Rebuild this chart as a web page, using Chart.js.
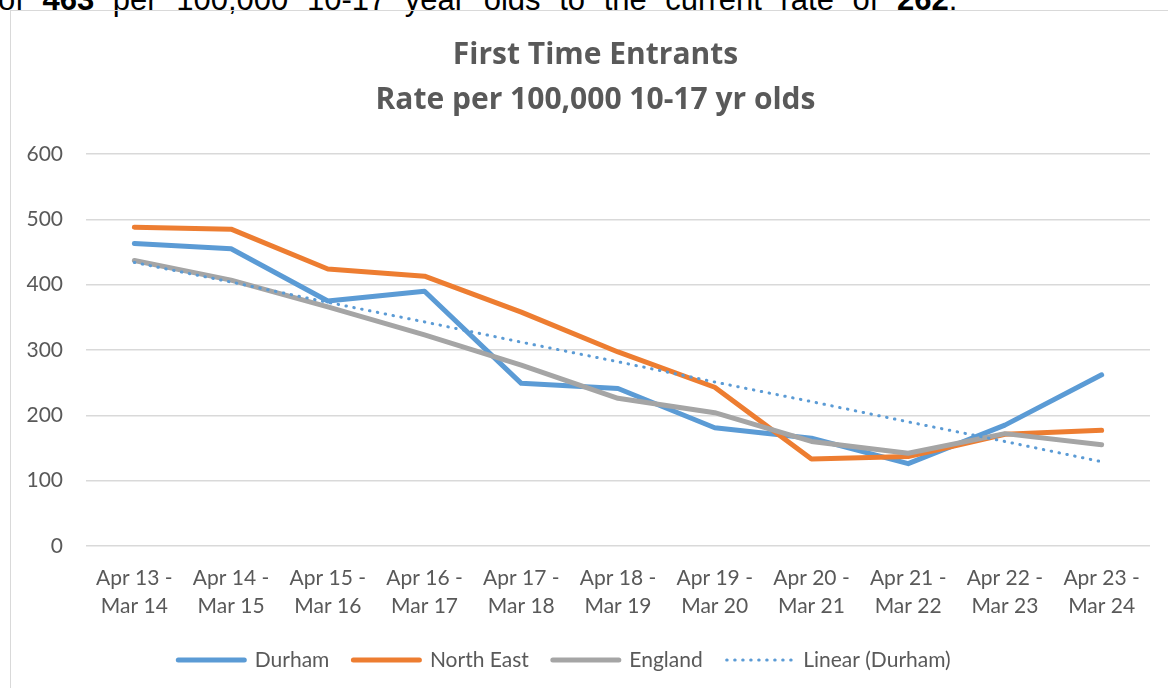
<!DOCTYPE html>
<html>
<head>
<meta charset="utf-8">
<script src="https://cdn.jsdelivr.net/npm/chart.js@4/dist/chart.umd.min.js"></script>
<style>
  html, body { margin: 0; padding: 0; background: #fff; overflow: hidden; }
  body { width: 1168px; height: 688px; position: relative; }
  #intro { position: absolute; left: -2px; top: -16px; font-family: "Liberation Sans", Arial, sans-serif; font-size: 31px; line-height: 31px; word-spacing: 10px; color: #000; white-space: nowrap; }
  #frame { position: absolute; left: 10px; top: 10px; width: 1180px; height: 700px; border: 1px solid #d9d9d9; box-sizing: border-box; }
  #wrap { position: absolute; left: 11px; top: 11px; width: 1157px; height: 677px; }
</style>
</head>
<body>
<div id="intro">of <b>463</b> per 100,000 10-17 year olds to the current rate of <b>262</b>.</div>
<div id="frame"></div>
<div id="wrap"><canvas id="c"></canvas></div>
<script>
const categories = [
  ["Apr 13 -", "Mar 14"], ["Apr 14 -", "Mar 15"], ["Apr 15 -", "Mar 16"], ["Apr 16 -", "Mar 17"],
  ["Apr 17 -", "Mar 18"], ["Apr 18 -", "Mar 19"], ["Apr 19 -", "Mar 20"], ["Apr 20 -", "Mar 21"],
  ["Apr 21 -", "Mar 22"], ["Apr 22 -", "Mar 23"], ["Apr 23 -", "Mar 24"]
];
const durham    = [463, 455, 375, 390, 249, 241, 181, 165, 126, 185, 262];
const northEast = [488, 485, 424, 413, 358, 297, 243, 133, 137, 171, 177];
const england   = [437, 407, 366, 323, 277, 226, 204, 160, 142, 172, 155];
const linearDurham = [434, 404, 373, 343, 312, 282, 251, 221, 190, 160, 129];
const yTicks = [0, 100, 200, 300, 400, 500, 600];

const FONT = "Lato, 'Open Sans', sans-serif";
const TITLE_FONT = "'Open Sans', Lato, sans-serif";
const GREY = "#595959";

// nudge title and legend horizontally to sit where the original places them
const nudgeBlocks = {
  id: "nudgeBlocks",
  afterLayout(chart) {
    if (chart.titleBlock) { chart.titleBlock.left += 15; chart.titleBlock.right += 15; }
    if (chart.legend) { chart.legend.left -= 16; chart.legend.right -= 16; }
  }
};

new Chart(document.getElementById("c"), {
  type: "line",
  data: {
    labels: categories,
    datasets: [
      { label: "Durham", data: durham, borderColor: "#5B9BD5", backgroundColor: "#5B9BD5", borderWidth: 5, pointRadius: 0, borderCapStyle: "round", borderJoinStyle: "round", tension: 0, order: 3 },
      { label: "North East", data: northEast, borderColor: "#ED7D31", backgroundColor: "#ED7D31", borderWidth: 5, pointRadius: 0, borderCapStyle: "round", borderJoinStyle: "round", tension: 0, order: 2 },
      { label: "England", data: england, borderColor: "#A5A5A5", backgroundColor: "#A5A5A5", borderWidth: 5, pointRadius: 0, borderCapStyle: "round", borderJoinStyle: "round", tension: 0, order: 1 },
      { label: "Linear (Durham)", data: linearDurham, borderColor: "#5B9BD5", backgroundColor: "#5B9BD5", borderWidth: 3, borderDash: [0.5, 7.5], pointRadius: 0, borderCapStyle: "round", tension: 0, order: 0 }
    ]
  },
  plugins: [nudgeBlocks],
  options: {
    responsive: true,
    maintainAspectRatio: false,
    animation: false,
    layout: { padding: { left: 0, right: 18, top: 0, bottom: 7.5 } },
    plugins: {
      title: {
        display: true,
        text: ["First Time Entrants", "Rate per 100,000 10-17 yr olds"],
        color: GREY,
        font: { family: TITLE_FONT, size: 30, weight: "bold", lineHeight: 1.5 },
        padding: { top: 21.5, bottom: 31.5 }
      },
      legend: {
        position: "bottom",
        labels: {
          usePointStyle: true,
          pointStyle: "line",
          pointStyleWidth: 66,
          boxHeight: 5,
          color: GREY,
          font: { family: FONT, size: 21 },
          padding: 24,
          generateLabels: (chart) => chart.data.datasets.map((ds, i) => ({
            text: ds.label,
            datasetIndex: i,
            fillStyle: ds.borderColor,
            strokeStyle: ds.borderColor,
            lineWidth: ds.borderWidth,
            lineDash: ds.borderDash || [],
            lineCap: "round",
            pointStyle: "line",
            fontColor: GREY,
            hidden: false
          }))
        }
      },
      tooltip: { enabled: false }
    },
    scales: {
      x: {
        offset: true,
        afterFit: (s) => { s.height = 79.5; },
        grid: { display: false, drawTicks: false },
        border: { display: false },
        ticks: { color: GREY, font: { family: FONT, size: 21, lineHeight: 1.333 }, padding: 18, maxRotation: 0, autoSkip: false }
      },
      y: {
        min: 0, max: 600,
        afterFit: (s) => { s.width = 75; },
        afterBuildTicks: (s) => { s.ticks = yTicks.map(v => ({ value: v })); },
        grid: { color: "#d9d9d9", lineWidth: 1.5, drawTicks: false },
        border: { display: false },
        ticks: { color: GREY, font: { family: FONT, size: 21 }, padding: 23 }
      }
    }
  }
});
</script>
</body>
</html>
